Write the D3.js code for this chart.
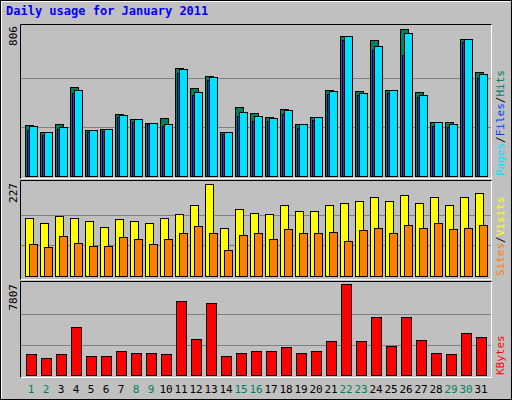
<!DOCTYPE html>
<html><head><meta charset="utf-8">
<script src="https://cdn.jsdelivr.net/npm/d3@7"></script>
<style>body{margin:0;background:#fff}text{font-family:"DejaVu Sans Mono",monospace}</style>
</head><body><svg id="chart" width="512" height="400"></svg>
<script>
var days = d3.range(1, 32);
var weekend = [1,2,8,9,15,16,22,23,29,30];
var hits  = [280,239,285,488,252,258,340,313,291,318,592,483,548,241,378,345,324,367,285,324,472,769,466,746,472,806,461,296,296,751,570];
var files = [272,239,269,472,252,258,334,313,291,285,587,461,543,239,351,329,318,362,285,324,466,768,455,713,472,784,444,296,285,751,559];
var pages = [252,225,258,455,241,247,324,296,285,274,565,444,526,230,329,302,302,340,263,307,450,746,444,691,455,663,433,274,269,735,537];
var visits = [143,130,148,143,136,121,141,136,131,143,153,175,227,119,165,155,153,175,160,160,176,181,186,194,186,201,181,194,176,196,206];
var sites  = [79,72,99,81,74,74,96,91,79,91,105,123,105,64,102,105,91,115,105,107,109,86,113,118,105,125,118,130,115,118,125];
var kbytes = [1760,1420,1760,4150,1590,1590,2100,1850,1930,1760,6360,3120,6190,1590,1930,2100,2100,2360,1850,2020,2950,7807,2950,4940,2530,4940,3040,1850,1760,3630,3290];

var svg = d3.select('#chart');
svg.append('rect').attr('x',0.5).attr('y',0.5).attr('width',511).attr('height',399).attr('fill','#C0C0C0').attr('stroke','#000');
svg.append('path').attr('d','M1.5,398.5V1.5H510.5').attr('fill','none').attr('stroke','#fff');
svg.append('text').attr('x',6).attr('y',15).attr('fill','#0000FF').attr('font-weight','bold').attr('font-size',12).text('Daily usage for January 2011');

var x = d3.scaleBand().domain(days).range([22, 487]);

function panel(y0, y1) {
  svg.append('rect').attr('x',20.5).attr('y',y0+0.5).attr('width',471).attr('height',y1-y0).attr('fill','#C0C0C0').attr('stroke','#fff');
  svg.append('path').attr('d','M20.5,'+(y1+0.5)+'V'+(y0+0.5)+'H491.5').attr('fill','none').attr('stroke','#000');
}
function grid(y, max) {
  [max/3, max*2/3].forEach(function(v){
    svg.append('line').attr('x1',21).attr('x2',491).attr('y1',Math.round(y(v))+0.5).attr('y2',Math.round(y(v))+0.5).attr('stroke','#808080');
  });
}
function bars(data, y, off, w, col) {
  svg.append('g').selectAll('rect').data(data).enter().append('rect')
    .attr('x', function(d,i){ return x(days[i]) + off + 0.5; })
    .attr('y', function(d){ return Math.round(y(d)) + 0.5; })
    .attr('width', w)
    .attr('height', function(d){ return Math.round(y(0)) - Math.round(y(d)); })
    .attr('fill', col).attr('stroke','#000');
}
function leftLabel(txt, yTop) {
  svg.append('text').attr('transform','translate(17,'+yTop+') rotate(-90)').attr('text-anchor','end').attr('font-size',11).attr('fill','#000').text(txt);
}
function rightLabel(parts, yBottom) {
  var t = svg.append('text').attr('transform','translate(504,'+yBottom+') rotate(-90)').attr('font-size',11);
  parts.forEach(function(p){ t.append('tspan').attr('fill',p[1]).text(p[0]); });
}

// hits / files / pages
panel(24, 178);
var y1 = d3.scaleLinear().domain([0, 806]).range([176, 29]);
grid(y1, 806);
bars(hits, y1, 3, 8, '#00805C');
bars(pages, y1, 5, 6, '#0040FF');
bars(files, y1, 7, 8, '#00E0FF');
leftLabel('806', 26);
rightLabel([['Pages','#00E0FF'],['/','#000'],['Files','#0040FF'],['/','#000'],['Hits','#00805C']], 176);

// visits / sites
panel(180, 279);
var y2 = d3.scaleLinear().domain([0, 227]).range([276, 184]);
grid(y2, 227);
bars(visits, y2, 3, 8, '#FFFF00');
bars(sites, y2, 7, 8, '#FF8000');
leftLabel('227', 183);
rightLabel([['Sites','#FF8000'],['/','#000'],['Visits','#FFFF00']], 276);

// kbytes
panel(281, 377);
var y3 = d3.scaleLinear().domain([0, 7807]).range([375, 284]);
grid(y3, 7807);
bars(kbytes, y3, 4, 10, '#FF0000');
leftLabel('7807', 284);
rightLabel([['KBytes','#FF0000']], 375);

svg.append('g').selectAll('text').data(days).enter().append('text')
  .attr('x', function(d){ return x(d) + 9; }).attr('y', 393)
  .attr('text-anchor','middle').attr('font-size',11)
  .attr('fill', function(d){ return weekend.indexOf(d) >= 0 ? '#00805C' : '#000'; })
  .text(function(d){ return d; });
</script></body></html>
